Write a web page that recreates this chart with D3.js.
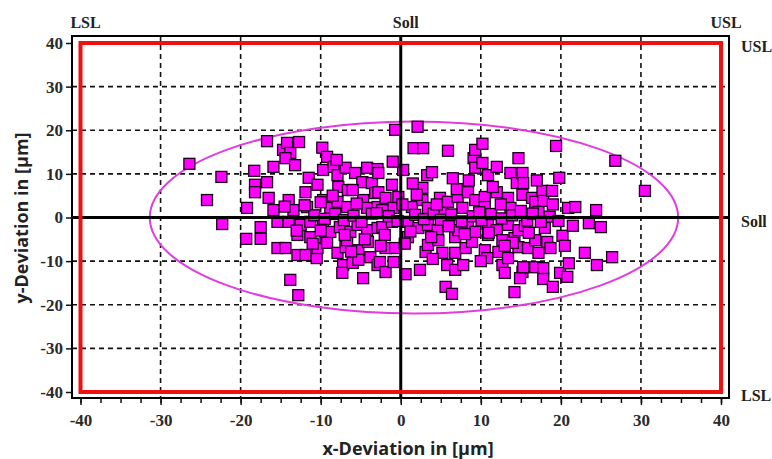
<!DOCTYPE html>
<html>
<head>
<meta charset="utf-8">
<script src="https://cdn.jsdelivr.net/npm/d3@7"></script>
<style>
  body { margin: 0; background: #fff; }
  .tick text { font-family: "Liberation Serif", serif; font-weight: bold; font-size: 17px; fill: #2a2a2a; }
  .limitText { font-family: "Liberation Serif", serif; font-weight: bold; font-size: 16px; fill: #222; }
  .axisTitle { font-family: "Open Sans", sans-serif; font-weight: bold; font-size: 18px; fill: #222; }
</style>
</head>
<body>
<div id="chart"></div>
<script>
// tick labels
var xTicks = [-40, -30, -20, -10, 0, 10, 20, 30, 40];
var yTicks = [-40, -30, -20, -10, 0, 10, 20, 30, 40];
var gridValues = [-30, -20, -10, 10, 20, 30];

// tolerance labels
var topLabels = ["LSL", "Soll", "USL"];
var topLabelValues = [-40, 0, 40];
var rightLabels = ["USL", "Soll", "LSL"];
var rightLabelValues = [40, 0, -40];

// tolerance window and fitted ellipse (µm)
var specLimits = [-40, 40];
var ellipseCenter = [1.65, 0];
var ellipseRadii = [33, 22];

var deviations = [
  [-26.4,12.3],[-24.2,4.0],[-22.4,9.3],[-22.3,-1.5],[-19.2,2.2],[-19.3,-4.9],[-18.3,10.7],[-18.2,7.5],
  [-18.2,5.8],[-17.5,-2.2],[-17.5,-4.9],[-16.7,17.5],[-15.9,11.6],[-16.7,8.1],[-16.5,4.5],[-15.9,1.7],
  [-15.4,-7.0],[-15.4,-1.0],[-14.4,-7.0],[-14.7,15.5],[-14.2,17.1],[-13.8,14.8],[-14.4,13.6],[-14.0,4.0],
  [-14.0,-1.0],[-13.8,-14.3],[-12.8,-17.8],[-12.7,17.3],[-13.2,12.0],[-13.4,1.7],[-12.9,-4.0],[-12.9,-8.6],
  [-12.5,-1.7],[-11.9,5.8],[-11.9,-8.6],[-11.7,2.4],[-11.5,9.1],[-11.3,-1.0],[-11.3,-4.5],[-10.5,-9.3],
  [-10.4,-7.0],[-10.4,7.5],[-9.8,16.0],[-9.2,13.9],[-9.7,10.9],[-9.7,4.0],[-9.7,-1.7],[-9.4,-4.7],
  [-9.2,-5.8],[-8.8,2.2],[-8.8,-3.3],[-8.4,11.6],[-7.9,9.7],[-7.8,7.0],[-7.9,3.6],[-7.9,-8.1],
  [-7.6,-2.2],[-7.2,-10.9],[-7.3,-12.7],[-6.9,11.4],[-6.9,-6.8],[-6.7,2.4],[-6.7,-5.2],[-6.6,6.3],
  [-6.3,-3.3],[-6.0,-10.4],[-5.7,10.2],[-5.4,-1.7],[-5.3,-7.5],[-5.3,-9.7],[-4.8,8.1],[-4.7,4.0],
  [-4.7,-13.9],[-4.2,11.4],[-4.2,2.2],[-4.2,-2.9],[-4.1,-5.6],[-3.8,-9.1],[-3.6,7.9],[-3.2,5.6],
  [-2.9,11.1],[-2.9,2.4],[-2.9,-2.4],[-2.9,-10.9],
  [-2.8,10.2],[-2.8,5.8],[-2.6,-10.2],[-2.3,1.7],[-2.3,-2.2],[-1.9,4.5],[-1.9,-7.0],[-1.9,-12.5],
  [-1.1,7.5],[-1.1,-1.0],[-0.9,2.2],[-0.9,-10.2],[-0.7,20.1],[-0.7,-7.0],[-0.3,4.7],[0.3,10.9],
  [0.6,-13.0],[0.9,-1.0],[0.9,-4.5],[1.4,2.4],[1.6,15.9],[2.1,20.8],[2.2,-2.4],[2.4,-12.0],
  [2.7,6.8],[2.7,4.0],[2.8,15.9],[3.1,-7.9],[3.3,9.7],[3.4,2.2],[3.4,-1.7],[3.4,-6.3],
  [3.9,10.4],[4.6,-2.9],[4.7,-5.2],[4.9,4.5],[5.2,1.7],[5.2,-8.1],[5.6,-15.9],[5.8,-10.9],
  [5.9,15.3],[5.9,3.6],[5.9,-1.3],[6.4,-17.5],[6.8,-4.5],[6.8,-8.1],[6.8,-12.0],[7.1,4.7],
  [7.2,-2.9],[7.7,2.2],[7.8,-10.9],[8.1,-7.0],[8.4,5.8],[8.4,-1.7],[8.9,-5.6],[9.1,13.6],
  [9.3,15.5],[9.3,11.4],[9.3,4.0],[9.3,-3.3],[10.2,16.9],[10.2,12.5],[10.5,4.7],[10.5,2.4],
  [10.5,-7.5],[10.8,-9.3],[10.9,9.7],[10.9,-1.3],[10.9,-4.0],[12.0,11.6],[12.0,5.8],[12.0,-2.9],
  [12.2,-7.9],[12.7,-5.2],[12.7,-10.9],[13.0,-12.7],[13.4,4.5],[13.4,-1.7],[13.4,-9.3],[13.7,10.2],
  [13.7,2.2],[14.2,-17.1],[14.2,-4.7],[14.5,7.9],[14.7,13.6],[14.7,-2.9],[14.7,-6.8],[15.2,10.2],
  [15.2,5.2],[15.2,-12.5],
  [14.9,-13.9],[15.3,7.9],[15.3,-11.4],[15.5,-1.9],[15.9,-7.0],[16.4,4.5],[16.8,3.6],[16.8,-5.2],
  [16.8,-11.4],[17.2,1.3],[17.2,-8.1],[17.7,6.1],[17.8,3.8],[17.8,-11.6],[17.8,-14.1],[18.0,-2.4],
  [18.3,-5.6],[18.7,-7.0],[18.9,6.1],[19.0,-15.9],[19.4,16.4],[19.8,9.1],[19.9,-12.7],[20.2,-4.2],
  [20.8,-13.6],[20.9,2.2],[21.5,-1.9],[21.8,2.4],[23.0,-8.1],[23.5,-1.3],[24.4,1.7],[24.5,-10.9],
  [25.0,-2.2],[26.4,-9.1],[26.8,13.0],[30.5,6.1],
  [-10.8,0.5],[-9.5,-0.3],[-8.2,0.8],[-7.1,-0.6],[-5.9,0.4],[-4.9,-1.0],[-3.6,0.9],[-1.5,0.3],
  [-0.4,-0.8],[1.8,0.6],[2.9,-0.4],[4.1,0.9],[5.0,-0.5],[6.3,0.7],[7.6,-0.9],[9.0,0.3],
  [10.1,-0.6],[11.3,0.8],[12.6,-0.2],[13.9,0.5],[15.8,-0.7],[16.5,0.9],[18.6,0.2],[19.7,-0.8],
  [-12.0,2.8],[-10.0,-3.0],[-8.5,5.0],[-7.0,-4.0],[-5.5,3.2],[-4.5,-5.0],[-3.0,1.0],[-2.0,-4.0],
  [0.2,3.0],[1.2,-3.2],[2.0,5.2],[3.8,-4.5],[4.5,3.0],[6.0,-2.0],[7.0,6.5],[8.0,-3.8],
  [9.8,1.2],[11.0,-3.5],[12.5,3.0],[14.0,-5.8],[15.0,1.5],[16.0,-3.5],[17.5,-1.0],[19.0,3.0],
  [20.5,-6.5],[21.0,-10.5],[-14.5,2.5],[-13.0,-3.0],[-11.0,-6.0],[-10.0,3.5],[-6.2,-7.8],[-2.5,-6.5],
  [0.5,-6.0],[1.5,7.8],[4.0,-9.5],[8.5,8.5],[10.0,-10.0],[11.5,7.0],[13.0,-6.5],[17.0,8.5],
  [6.5,9.0],[-1.0,12.8],[-8.0,13.2],[-6.0,6.3]
];

var width = 772, height = 459;
var frame = { left: 72, right: 729, top: 36, bottom: 398 };

var svg = d3.select("#chart").append("svg")
  .attr("width", width)
  .attr("height", height)
  .style("background", "#fff");

var x = d3.scaleLinear().domain([-40, 40]).range([80.5, 721]);
var y = d3.scaleLinear().domain([-40, 40]).range([392, 43]);

// dashed grid
svg.append("g").selectAll("line").data(gridValues).enter().append("line")
  .attr("x1", d => x(d)).attr("x2", d => x(d))
  .attr("y1", frame.top).attr("y2", frame.bottom)
  .attr("stroke", "#111").attr("stroke-width", 1.6).attr("stroke-dasharray", "5,4");
svg.append("g").selectAll("line").data(gridValues).enter().append("line")
  .attr("x1", frame.left).attr("x2", frame.right)
  .attr("y1", d => y(d)).attr("y2", d => y(d))
  .attr("stroke", "#111").attr("stroke-width", 1.6).attr("stroke-dasharray", "5,4");

// ellipse
svg.append("ellipse")
  .attr("cx", x(ellipseCenter[0]))
  .attr("cy", y(ellipseCenter[1]))
  .attr("rx", x(ellipseRadii[0]) - x(0))
  .attr("ry", y(0) - y(ellipseRadii[1]))
  .attr("fill", "none")
  .attr("stroke", "#e03ce0")
  .attr("stroke-width", 2);

// points
var s = 11;
svg.append("g").selectAll("rect").data(deviations).enter().append("rect")
  .attr("x", d => x(d[0]) - s / 2)
  .attr("y", d => y(d[1]) - s / 2)
  .attr("width", s).attr("height", s)
  .attr("fill", "#ff00ff")
  .attr("stroke", "#1a001a")
  .attr("stroke-width", 1.3);

// nominal cross
svg.append("line")
  .attr("x1", x(0)).attr("x2", x(0)).attr("y1", frame.top).attr("y2", frame.bottom)
  .attr("stroke", "#000").attr("stroke-width", 3);
svg.append("line")
  .attr("x1", frame.left).attr("x2", frame.right).attr("y1", y(0)).attr("y2", y(0))
  .attr("stroke", "#000").attr("stroke-width", 3);

// tolerance window
svg.append("rect")
  .attr("x", x(specLimits[0])).attr("y", y(specLimits[1]))
  .attr("width", x(specLimits[1]) - x(specLimits[0]))
  .attr("height", y(specLimits[0]) - y(specLimits[1]))
  .attr("fill", "none").attr("stroke", "#f01010").attr("stroke-width", 4);

// frame
svg.append("rect")
  .attr("x", frame.left).attr("y", frame.top)
  .attr("width", frame.right - frame.left).attr("height", frame.bottom - frame.top)
  .attr("fill", "none").attr("stroke", "#000").attr("stroke-width", 2);

// axes (plain hyphen for negatives, as in the original)
var fmt = d => String(d);

var xMinor = svg.append("g")
  .attr("transform", "translate(0," + frame.bottom + ")")
  .call(d3.axisBottom(x).tickValues(d3.range(-40, 40.1, 2.5)).tickSize(5).tickFormat(""));
xMinor.select(".domain").remove();
xMinor.selectAll("line").attr("stroke", "#111").attr("stroke-width", 1.5);

var xAxis = svg.append("g")
  .attr("transform", "translate(0," + frame.bottom + ")")
  .call(d3.axisBottom(x).tickValues(xTicks).tickSize(7).tickPadding(9).tickFormat(fmt));
xAxis.select(".domain").remove();
xAxis.selectAll("line").attr("stroke", "#111").attr("stroke-width", 1.5);

var yAxis = svg.append("g")
  .attr("transform", "translate(" + frame.left + ",0)")
  .call(d3.axisLeft(y).tickValues(yTicks).tickSize(6).tickPadding(3).tickFormat(fmt));
yAxis.select(".domain").remove();
yAxis.selectAll("line").attr("stroke", "#111").attr("stroke-width", 1.5);

// tolerance labels
svg.append("g").selectAll("text").data(topLabels).enter().append("text")
  .attr("class", "limitText")
  .attr("x", (d, i) => x(topLabelValues[i]) + 5)
  .attr("y", 28)
  .attr("text-anchor", "middle")
  .text(d => d);
svg.append("g").selectAll("text").data(rightLabels).enter().append("text")
  .attr("class", "limitText")
  .attr("x", 741)
  .attr("y", (d, i) => y(rightLabelValues[i]) + 9)
  .text(d => d);

// axis titles
svg.append("text")
  .attr("class", "axisTitle")
  .attr("x", 408).attr("y", 455)
  .attr("text-anchor", "middle")
  .text("x-Deviation in [µm]");
svg.append("text")
  .attr("class", "axisTitle")
  .attr("transform", "translate(28," + 218 + ") rotate(-90)")
  .attr("text-anchor", "middle")
  .text("y-Deviation in [µm]");
</script>
</body>
</html>
